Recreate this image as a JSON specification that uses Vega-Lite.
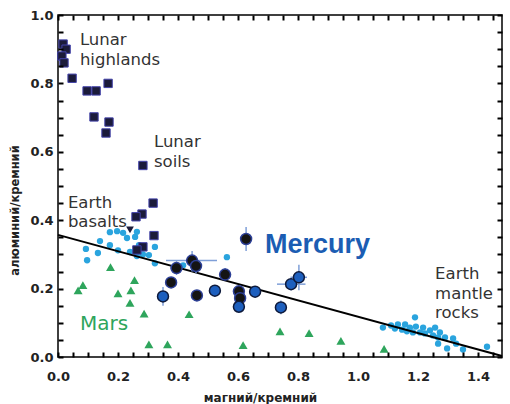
{
  "$schema": "https://vega.github.io/schema/vega-lite/v6.json",
  "width": 444,
  "height": 342,
  "autosize": "none",
  "padding": {"left": 58, "top": 15, "right": 8, "bottom": 47},
  "background": "white",
  "config": {"view": {"stroke": "black", "strokeWidth": 1.5}},
  "resolve": {"axis": {"x": "independent", "y": "independent"}},
  "layer": [
    {
      "data": {"values": [
        {"x": 0.093, "y": 0.316}, {"x": 0.097, "y": 0.283}, {"x": 0.133, "y": 0.304}, {"x": 0.14, "y": 0.339},
        {"x": 0.173, "y": 0.327}, {"x": 0.173, "y": 0.365}, {"x": 0.197, "y": 0.368}, {"x": 0.2, "y": 0.312},
        {"x": 0.217, "y": 0.363}, {"x": 0.23, "y": 0.348}, {"x": 0.24, "y": 0.307}, {"x": 0.257, "y": 0.351},
        {"x": 0.263, "y": 0.366}, {"x": 0.263, "y": 0.295}, {"x": 0.27, "y": 0.327}, {"x": 0.283, "y": 0.3},
        {"x": 0.303, "y": 0.298}, {"x": 0.323, "y": 0.322}, {"x": 0.323, "y": 0.274}, {"x": 0.417, "y": 0.268},
        {"x": 0.563, "y": 0.292},
        {"x": 1.083, "y": 0.086}, {"x": 1.11, "y": 0.092}, {"x": 1.123, "y": 0.083}, {"x": 1.133, "y": 0.095},
        {"x": 1.147, "y": 0.08}, {"x": 1.157, "y": 0.095}, {"x": 1.163, "y": 0.075}, {"x": 1.173, "y": 0.086},
        {"x": 1.19, "y": 0.116}, {"x": 1.193, "y": 0.089}, {"x": 1.183, "y": 0.072}, {"x": 1.207, "y": 0.072},
        {"x": 1.217, "y": 0.086}, {"x": 1.223, "y": 0.069}, {"x": 1.24, "y": 0.078}, {"x": 1.257, "y": 0.086},
        {"x": 1.25, "y": 0.063}, {"x": 1.267, "y": 0.057}, {"x": 1.273, "y": 0.072}, {"x": 1.267, "y": 0.039},
        {"x": 1.29, "y": 0.057}, {"x": 1.297, "y": 0.025}, {"x": 1.317, "y": 0.054}, {"x": 1.327, "y": 0.039},
        {"x": 1.35, "y": 0.022}, {"x": 1.43, "y": 0.03}
      ]},
      "mark": {"type": "point", "shape": "circle", "filled": true, "size": 40, "color": "#2aa4de", "opacity": 1},
      "encoding": {
        "x": {"field": "x", "type": "quantitative", "scale": {"domain": [0, 1.48], "nice": false, "zero": false},
          "axis": {"orient": "bottom", "values": [0, 0.05, 0.1, 0.15, 0.2, 0.25, 0.3, 0.35, 0.4, 0.45, 0.5, 0.55, 0.6, 0.65, 0.7, 0.75, 0.8, 0.85, 0.9, 0.95, 1.0, 1.05, 1.1, 1.15, 1.2, 1.25, 1.3, 1.35, 1.4, 1.45],
            "labelExpr": "abs(round(datum.value * 5) - datum.value * 5) < 0.001 ? format(datum.value, '.1f') : ''",
            "ticks": true, "tickSize": -5, "tickWidth": 2, "tickColor": "#000000", "domain": false, "grid": false, "zindex": 2,
            "labelFont": "DejaVu Sans", "labelFontSize": 13, "labelFontWeight": "bold", "labelColor": "#222",
            "labelPadding": 18, "labelFlush": false, "labelOverlap": false,
            "title": "магний/кремний", "titleX": 202, "titleY": 40, "titleBaseline": "middle", "titleAlign": "center",
            "titleFont": "DejaVu Sans", "titleFontSize": 12, "titleFontWeight": "bold", "titleColor": "#222"}},
        "y": {"field": "y", "type": "quantitative", "scale": {"domain": [0, 1], "nice": false, "zero": false},
          "axis": {"orient": "left", "values": [0, 0.05, 0.1, 0.15, 0.2, 0.25, 0.3, 0.35, 0.4, 0.45, 0.5, 0.55, 0.6, 0.65, 0.7, 0.75, 0.8, 0.85, 0.9, 0.95, 1.0],
            "labelExpr": "abs(round(datum.value * 5) - datum.value * 5) < 0.001 ? format(datum.value, '.1f') : ''",
            "ticks": true, "tickSize": -5, "tickWidth": 2, "tickColor": "#000000", "domain": false, "grid": false, "zindex": 2,
            "labelFont": "DejaVu Sans", "labelFontSize": 13, "labelFontWeight": "bold", "labelColor": "#222",
            "labelPadding": 10, "labelFlush": false, "labelOverlap": false,
            "title": "алюминий/кремний", "titleX": -43, "titleY": 195, "titleBaseline": "middle", "titleAlign": "center", "titleAngle": -90,
            "titleFont": "DejaVu Sans", "titleFontSize": 11.5, "titleFontWeight": "bold", "titleColor": "#222"}}
      }
    },
    {
      "data": {"values": [
        {"x": 0.067, "y": 0.195}, {"x": 0.083, "y": 0.21}, {"x": 0.175, "y": 0.263}, {"x": 0.2, "y": 0.186},
        {"x": 0.243, "y": 0.195}, {"x": 0.255, "y": 0.225}, {"x": 0.24, "y": 0.158}, {"x": 0.287, "y": 0.127},
        {"x": 0.303, "y": 0.037}, {"x": 0.365, "y": 0.037}, {"x": 0.437, "y": 0.125}, {"x": 0.617, "y": 0.035},
        {"x": 0.74, "y": 0.075}, {"x": 0.837, "y": 0.07}, {"x": 0.943, "y": 0.047}, {"x": 1.087, "y": 0.024}
      ]},
      "mark": {"type": "point", "shape": "triangle-up", "filled": true, "size": 80, "color": "#2ea55c", "opacity": 1},
      "encoding": {
        "x": {"field": "x", "type": "quantitative", "scale": {"domain": [0, 1.48], "nice": false, "zero": false}, "axis": null},
        "y": {"field": "y", "type": "quantitative", "scale": {"domain": [0, 1], "nice": false, "zero": false}, "axis": null}
      }
    },
    {
      "data": {"values": [
        {"x": 0.017, "y": 0.915}, {"x": 0.027, "y": 0.9}, {"x": 0.013, "y": 0.88}, {"x": 0.02, "y": 0.86},
        {"x": 0.047, "y": 0.815}, {"x": 0.097, "y": 0.778}, {"x": 0.127, "y": 0.778}, {"x": 0.167, "y": 0.8},
        {"x": 0.12, "y": 0.702}, {"x": 0.17, "y": 0.687}, {"x": 0.16, "y": 0.655}, {"x": 0.283, "y": 0.56},
        {"x": 0.317, "y": 0.45}, {"x": 0.28, "y": 0.418}, {"x": 0.26, "y": 0.41}, {"x": 0.32, "y": 0.355},
        {"x": 0.283, "y": 0.322}, {"x": 0.263, "y": 0.313}
      ]},
      "mark": {"type": "point", "shape": "square", "filled": true, "size": 70, "color": "#1b1b3a", "stroke": "#4343aa", "strokeWidth": 1, "opacity": 1},
      "encoding": {
        "x": {"field": "x", "type": "quantitative", "scale": {"domain": [0, 1.48], "nice": false, "zero": false},
          "axis": {"orient": "top", "values": [0, 0.05, 0.1, 0.15, 0.2, 0.25, 0.3, 0.35, 0.4, 0.45, 0.5, 0.55, 0.6, 0.65, 0.7, 0.75, 0.8, 0.85, 0.9, 0.95, 1.0, 1.05, 1.1, 1.15, 1.2, 1.25, 1.3, 1.35, 1.4, 1.45],
            "ticks": true, "tickSize": -5, "tickWidth": 2, "tickColor": "#000000", "domain": false, "grid": false, "labels": false, "title": null, "zindex": 2}},
        "y": {"field": "y", "type": "quantitative", "scale": {"domain": [0, 1], "nice": false, "zero": false},
          "axis": {"orient": "right", "values": [0, 0.05, 0.1, 0.15, 0.2, 0.25, 0.3, 0.35, 0.4, 0.45, 0.5, 0.55, 0.6, 0.65, 0.7, 0.75, 0.8, 0.85, 0.9, 0.95, 1.0],
            "ticks": true, "tickSize": -5, "tickWidth": 2, "tickColor": "#000000", "domain": false, "grid": false, "labels": false, "title": null, "zindex": 2}}
      }
    },
    {
      "data": {"values": [{"x": 0.24, "y": 0.372}]},
      "mark": {"type": "point", "shape": "triangle-down", "filled": true, "size": 60, "color": "#1b1b3a", "opacity": 1},
      "encoding": {
        "x": {"field": "x", "type": "quantitative", "scale": {"domain": [0, 1.48], "nice": false, "zero": false}, "axis": null},
        "y": {"field": "y", "type": "quantitative", "scale": {"domain": [0, 1], "nice": false, "zero": false}, "axis": null}
      }
    },
    {
      "data": {"values": [{"x": 0, "y": 0.357}, {"x": 1.48, "y": 0.003}]},
      "mark": {"type": "line", "color": "black", "strokeWidth": 2},
      "encoding": {
        "x": {"field": "x", "type": "quantitative", "scale": {"domain": [0, 1.48], "nice": false, "zero": false}, "axis": null},
        "y": {"field": "y", "type": "quantitative", "scale": {"domain": [0, 1], "nice": false, "zero": false}, "axis": null}
      }
    },
    {
      "data": {"name": "mercury", "values": [
        {"x": 0.627, "y": 0.345, "type": "black", "xlo": 0.617, "xhi": 0.637, "ylo": 0.31, "yhi": 0.38},
        {"x": 0.447, "y": 0.282, "type": "black", "xlo": 0.36, "xhi": 0.53, "ylo": 0.25, "yhi": 0.31},
        {"x": 0.46, "y": 0.266, "type": "black", "xlo": 0.44, "xhi": 0.48, "ylo": 0.245, "yhi": 0.29},
        {"x": 0.395, "y": 0.26, "type": "black", "xlo": 0.375, "xhi": 0.415, "ylo": 0.24, "yhi": 0.28},
        {"x": 0.377, "y": 0.218, "type": "black", "xlo": 0.365, "xhi": 0.39, "ylo": 0.205, "yhi": 0.23},
        {"x": 0.557, "y": 0.241, "type": "black", "xlo": 0.545, "xhi": 0.57, "ylo": 0.225, "yhi": 0.26},
        {"x": 0.463, "y": 0.18, "type": "black", "xlo": 0.45, "xhi": 0.475, "ylo": 0.165, "yhi": 0.195},
        {"x": 0.603, "y": 0.192, "type": "black", "xlo": 0.59, "xhi": 0.615, "ylo": 0.18, "yhi": 0.205},
        {"x": 0.607, "y": 0.172, "type": "black", "xlo": 0.595, "xhi": 0.62, "ylo": 0.16, "yhi": 0.185},
        {"x": 0.35, "y": 0.177, "type": "blue", "xlo": 0.335, "xhi": 0.365, "ylo": 0.15, "yhi": 0.205},
        {"x": 0.523, "y": 0.194, "type": "blue", "xlo": 0.51, "xhi": 0.535, "ylo": 0.18, "yhi": 0.21},
        {"x": 0.603, "y": 0.147, "type": "blue", "xlo": 0.59, "xhi": 0.615, "ylo": 0.135, "yhi": 0.16},
        {"x": 0.657, "y": 0.191, "type": "blue", "xlo": 0.645, "xhi": 0.67, "ylo": 0.178, "yhi": 0.205},
        {"x": 0.743, "y": 0.145, "type": "blue", "xlo": 0.725, "xhi": 0.76, "ylo": 0.125, "yhi": 0.165},
        {"x": 0.777, "y": 0.213, "type": "blue", "xlo": 0.73, "xhi": 0.825, "ylo": 0.195, "yhi": 0.23},
        {"x": 0.803, "y": 0.233, "type": "blue", "xlo": 0.775, "xhi": 0.83, "ylo": 0.195, "yhi": 0.27}
      ]},
      "layer": [
        {
          "mark": {"type": "rule", "color": "#7f9fd8", "strokeWidth": 1.5},
          "encoding": {
            "x": {"field": "xlo", "type": "quantitative", "scale": {"domain": [0, 1.48], "nice": false, "zero": false}, "axis": null},
            "x2": {"field": "xhi"},
            "y": {"field": "y", "type": "quantitative", "scale": {"domain": [0, 1], "nice": false, "zero": false}, "axis": null}
          }
        },
        {
          "mark": {"type": "rule", "color": "#7f9fd8", "strokeWidth": 1.5},
          "encoding": {
            "x": {"field": "x", "type": "quantitative", "scale": {"domain": [0, 1.48], "nice": false, "zero": false}, "axis": null},
            "y": {"field": "ylo", "type": "quantitative", "scale": {"domain": [0, 1], "nice": false, "zero": false}, "axis": null},
            "y2": {"field": "yhi"}
          }
        },
        {
          "mark": {"type": "point", "shape": "circle", "filled": true, "size": 120, "strokeWidth": 1.5, "opacity": 1},
          "encoding": {
            "x": {"field": "x", "type": "quantitative", "scale": {"domain": [0, 1.48], "nice": false, "zero": false}, "axis": null},
            "y": {"field": "y", "type": "quantitative", "scale": {"domain": [0, 1], "nice": false, "zero": false}, "axis": null},
            "fill": {"field": "type", "type": "nominal", "scale": {"domain": ["black", "blue"], "range": ["#141414", "#1d5fbe"]}, "legend": null},
            "stroke": {"field": "type", "type": "nominal", "scale": {"domain": ["black", "blue"], "range": ["#2c3f96", "#0e1a3c"]}, "legend": null}
          }
        }
      ]
    },
    {
      "data": {"values": [
        {"x": 0.073, "y": 0.912, "label": ["Lunar", "highlands"]},
        {"x": 0.32, "y": 0.614, "label": ["Lunar", "soils"]},
        {"x": 0.033, "y": 0.436, "label": ["Earth", "basalts"]},
        {"x": 1.257, "y": 0.228, "label": ["Earth", "mantle", "rocks"]}
      ]},
      "mark": {"type": "text", "align": "left", "baseline": "alphabetic", "font": "DejaVu Sans", "fontSize": 16.5, "lineHeight": 19.5, "color": "#333333"},
      "encoding": {
        "x": {"field": "x", "type": "quantitative", "scale": {"domain": [0, 1.48], "nice": false, "zero": false}, "axis": null},
        "y": {"field": "y", "type": "quantitative", "scale": {"domain": [0, 1], "nice": false, "zero": false}, "axis": null},
        "text": {"field": "label"}
      }
    },
    {
      "data": {"values": [{"x": 0.69, "y": 0.304, "label": "Mercury"}]},
      "mark": {"type": "text", "align": "left", "baseline": "alphabetic", "font": "Liberation Sans", "fontWeight": "bold", "fontSize": 27, "color": "#1b5db3"},
      "encoding": {
        "x": {"field": "x", "type": "quantitative", "scale": {"domain": [0, 1.48], "nice": false, "zero": false}, "axis": null},
        "y": {"field": "y", "type": "quantitative", "scale": {"domain": [0, 1], "nice": false, "zero": false}, "axis": null},
        "text": {"field": "label"}
      }
    },
    {
      "data": {"values": [{"x": 0.073, "y": 0.079, "label": "Mars"}]},
      "mark": {"type": "text", "align": "left", "baseline": "alphabetic", "font": "DejaVu Sans", "fontSize": 20, "color": "#2ea55c"},
      "encoding": {
        "x": {"field": "x", "type": "quantitative", "scale": {"domain": [0, 1.48], "nice": false, "zero": false}, "axis": null},
        "y": {"field": "y", "type": "quantitative", "scale": {"domain": [0, 1], "nice": false, "zero": false}, "axis": null},
        "text": {"field": "label"}
      }
    }
  ]
}
